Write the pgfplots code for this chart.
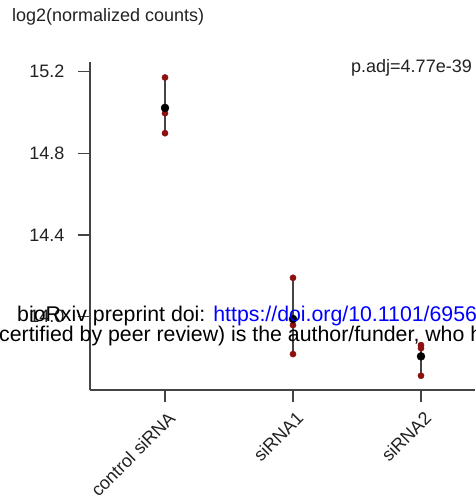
\documentclass[border=0pt]{standalone}
\usepackage{pgfplots}
\pgfplotsset{compat=1.18}
\usepackage{fontspec}
\setmainfont{Liberation Sans}
\definecolor{axisgray}{HTML}{444444}
\definecolor{txtgray}{HTML}{222222}
\definecolor{ptred}{HTML}{8B1010}
\definecolor{linkblue}{HTML}{0000FF}
\begin{document}
\begin{tikzpicture}[x=1pt,y=1pt]
\begin{axis}[
  scale only axis, width=385pt, height=328pt,
  xmin=0.414, xmax=3.422, ymin=13.64, ymax=15.248,
  axis x line*=bottom, axis y line*=left,
  axis line style={axisgray, line width=1.6pt, -},
  xtick={1,2,3}, xticklabels={control siRNA, siRNA1, siRNA2},
  ytick={14.0,14.4,14.8,15.2},
  yticklabels={14.0,14.4,14.8,15.2},
  tick style={axisgray, line width=1.4pt},
  tick align=outside, major tick length=12pt,
  font=\fontsize{18}{21}\selectfont,
  ticklabel style={text=txtgray},
  yticklabel style={xshift=-10pt},
  xticklabel style={rotate=45, anchor=north east, xshift=-1pt, yshift=-4pt},
  clip=false,
]
\coordinate (O) at (rel axis cs:0,0);
\addplot[axisgray, line width=1.6pt] coordinates {(1,14.899) (1,15.172)};
\addplot[axisgray, line width=1.6pt] coordinates {(2,13.816) (2,14.190)};
\addplot[axisgray, line width=1.6pt] coordinates {(3,13.710) (3,13.860)};
\addplot[only marks, mark=*, mark size=3.1pt, mark options={fill=ptred, draw=ptred}] coordinates {
  (1,15.172) (1,14.997) (1,14.899)
  (2,14.190) (2,13.958) (2,13.816)
  (3,13.860) (3,13.845) (3,13.710)};
\addplot[only marks, mark=*, mark size=4pt, mark options={fill=black, draw=black}] coordinates {
  (1,15.023) (2,13.988) (3,13.805)};
\end{axis}
\pgfresetboundingbox
\path[use as bounding box] (O) ++(-90,-110) rectangle ++(475,500);
\path (O) ++(-78,368) node[anchor=base west, inner sep=0, text=txtgray, font=\fontsize{18}{21}\selectfont] {log2(normalized counts)};
\path (O) ++(382,317) node[anchor=base east, inner sep=0, text=txtgray, font=\fontsize{18}{21}\selectfont] {p.adj=4.77e-39};
\path (O) ++(-73,68) node[anchor=base west, inner sep=0, font=\fontsize{21.3}{24}\selectfont] {bioRxiv preprint doi: \textcolor{linkblue}{https://doi.org/10.1101/695668}; this version posted};
\path (O) ++(-91,48) node[anchor=base west, inner sep=0, font=\fontsize{21.3}{24}\selectfont] {certified by peer review) is the author/funder, who has granted bioRxiv a license};
\end{tikzpicture}
\end{document}
